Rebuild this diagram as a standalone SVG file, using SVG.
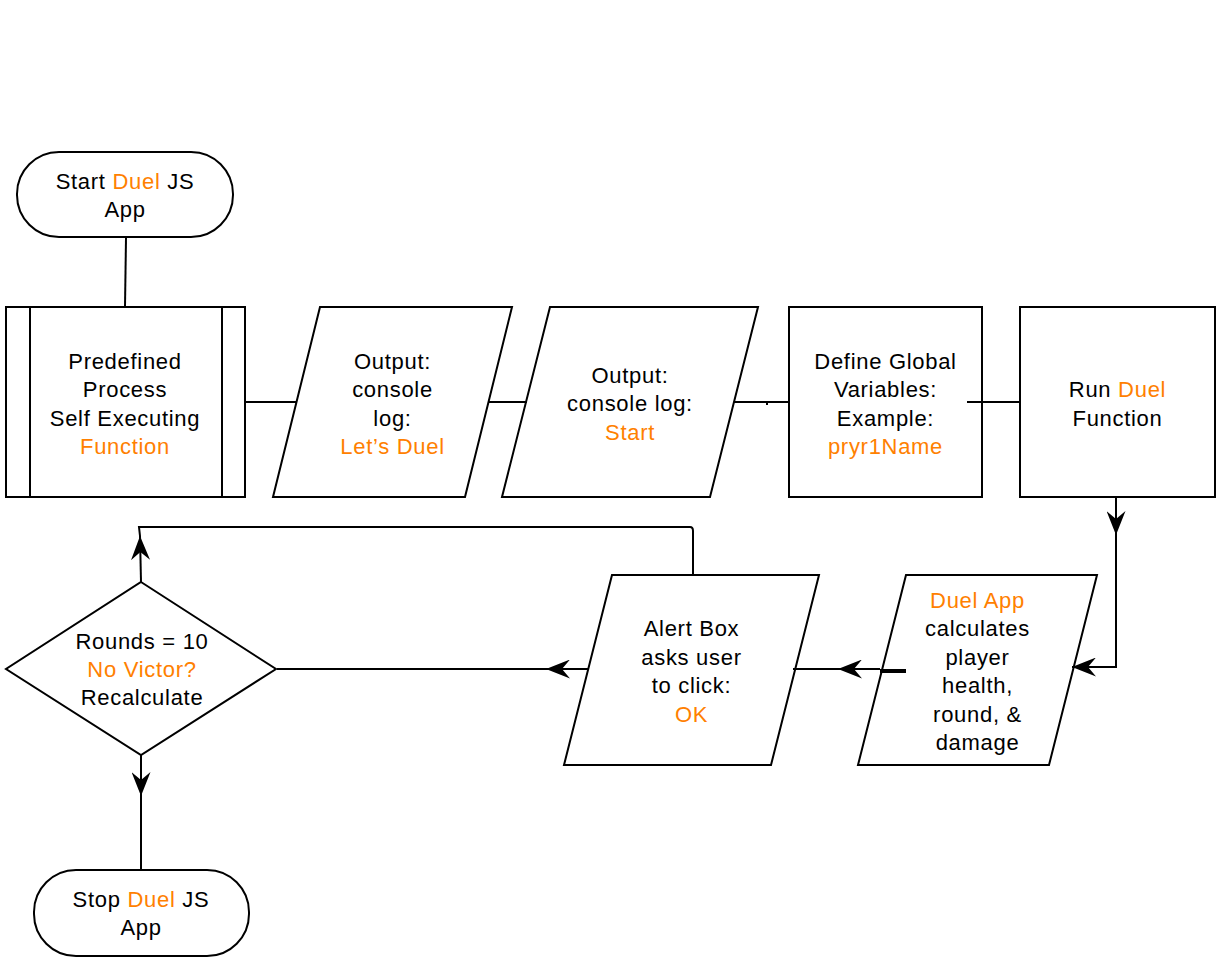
<svg xmlns="http://www.w3.org/2000/svg" width="1219" height="961" viewBox="0 0 1219 961">
<style>
.s{fill:#fff;stroke:#000;stroke-width:2}
.c{fill:none;stroke:#000;stroke-width:2}
text{font-family:"Liberation Sans",Arial,Helvetica,sans-serif;font-size:22px;letter-spacing:0.7px;fill:#000;text-anchor:middle}
.o{fill:#ff8000}
</style>
<defs>
<marker id="ah" markerUnits="userSpaceOnUse" viewBox="0 0 24 19" markerWidth="24" markerHeight="19" refX="24" refY="9.5" orient="auto">
<path d="M24,9.5 L0,0 L8,9.5 L0,19 Z" fill="#000"/>
</marker>
</defs>
<rect width="1219" height="961" fill="#fff"/>

<g id="start">
<rect class="s" x="17" y="152" width="216" height="85" rx="42" ry="42"/>
<text x="125" y="189">Start <tspan class="o">Duel</tspan> JS</text>
<text x="125" y="217">App</text>
</g>

<g id="predefined">
<rect class="s" x="6" y="307" width="239" height="190"/>
<path class="c" d="M30,307 L30,497 M222,307 L222,497"/>
<text x="125" y="368.5">Predefined</text>
<text x="125" y="397">Process</text>
<text x="125" y="425.5">Self Executing</text>
<text x="125" y="454" class="o">Function</text>
</g>

<g id="output1">
<polygon class="s" points="320,307 512,307 465,497 273,497"/>
<text x="392.5" y="368.5">Output:</text>
<text x="392.5" y="397">console</text>
<text x="392.5" y="425.5">log:</text>
<text x="392.5" y="454" class="o">Let’s Duel</text>
</g>

<g id="output2">
<polygon class="s" points="550,307 758,307 710,497 502,497"/>
<text x="630" y="382.5">Output:</text>
<text x="630" y="411">console log:</text>
<text x="630" y="439.5" class="o">Start</text>
</g>

<g id="define">
<rect class="s" x="789" y="307" width="193" height="190"/>
<text x="885.5" y="368.5">Define Global</text>
<text x="885.5" y="397">Variables:</text>
<text x="885.5" y="425.5">Example:</text>
<text x="885.5" y="454" class="o">pryr1Name</text>
</g>

<g id="run">
<rect class="s" x="1020" y="307" width="195" height="190"/>
<text x="1117.5" y="397">Run <tspan class="o">Duel</tspan></text>
<text x="1117.5" y="425.5">Function</text>
</g>

<g id="duelapp">
<polygon class="s" points="906,575 1097,575 1049,765 858,765"/>
<text x="977.5" y="607.5" class="o">Duel App</text>
<text x="977.5" y="636">calculates</text>
<text x="977.5" y="664.5">player</text>
<text x="977.5" y="693">health,</text>
<text x="977.5" y="721.5">round, &amp;</text>
<text x="977.5" y="750">damage</text>
</g>

<g id="alert">
<polygon class="s" points="612,575 819,575 771,765 564,765"/>
<text x="691.5" y="636">Alert Box</text>
<text x="691.5" y="664.5">asks user</text>
<text x="691.5" y="693">to click:</text>
<text x="691.5" y="721.5" class="o">OK</text>
</g>

<g id="decision">
<polygon class="s" points="141,582 276,669 141,755 6,669"/>
<text x="142" y="648.5">Rounds = 10</text>
<text x="142" y="676.5" class="o">No Victor?</text>
<text x="142" y="704.5">Recalculate</text>
</g>

<g id="stop">
<rect class="s" x="34" y="870" width="215" height="86" rx="42" ry="42"/>
<text x="141" y="907">Stop <tspan class="o">Duel</tspan> JS</text>
<text x="141" y="935">App</text>
</g>

<g id="connectors">
<path class="c" d="M126,238 L125,307"/>
<path class="c" d="M245,402 L296,402"/>
<path class="c" d="M489,402 L527,402"/>
<path class="c" d="M734,402 L789,402 M767,402 L767,405"/>
<path class="c" d="M967,402 L1020,402"/>
<path class="c" d="M1116,497 L1116,535" marker-end="url(#ah)"/>
<path class="c" d="M1116,535 L1116,667 L1072,667" marker-end="url(#ah)"/>
<path d="M906,671 L880,671" fill="none" stroke="#000" stroke-width="4"/>
<path class="c" d="M880,669 L838,669" marker-end="url(#ah)"/>
<path class="c" d="M838,669 L793,669"/>
<path class="c" d="M588,669 L546,669" marker-end="url(#ah)"/>
<path class="c" d="M546,669 L277,669"/>
<path class="c" d="M141,582 L140,536" marker-end="url(#ah)"/>
<path class="c" d="M140,536 L139,527 L690,527 Q693,527 693,531 L693,575"/>
<path class="c" d="M141,755 L141,796" marker-end="url(#ah)"/>
<path class="c" d="M141,796 L141,870"/>
</g>
</svg>
